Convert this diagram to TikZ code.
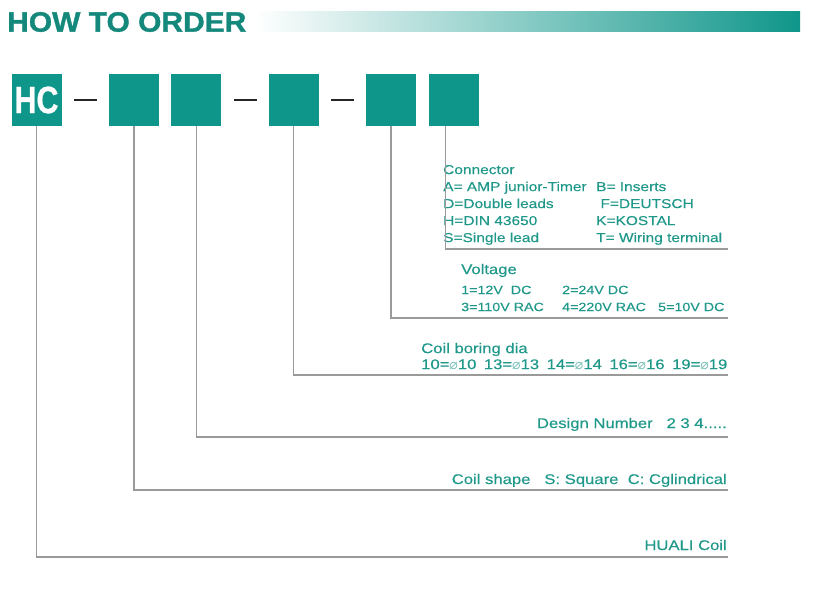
\documentclass[tikz,border=0pt]{standalone}
\usepackage{fontspec}
\setmainfont{Liberation Sans}
\newfontfamily\widesans[FakeStretch=1.19, FakeBold=0.3]{Liberation Sans}
\newfontfamily\narrowsans[FakeStretch=0.8, BoldFeatures={FakeBold=0.8}]{Liberation Sans}
\newfontfamily\titlesans[FakeStretch=1.07, BoldFeatures={FakeBold=1.2}]{Liberation Sans}
\newfontfamily\dejavu{DejaVu Sans}
\usepackage{tikz}
\usetikzlibrary{positioning,calc}
\definecolor{hbox}{HTML}{0F968A}
\definecolor{htitle}{HTML}{15887C}
\definecolor{htext}{HTML}{1F988A}
\definecolor{hgray}{HTML}{9A9A9A}
\newcommand{\dia}{{\dejavu\color{htext!60}⌀}}
\newcommand{\gap}{\hspace{7.5pt}}
\tikzset{
  codebox/.style={fill=hbox, minimum width=50pt, minimum height=52pt, inner sep=0pt},
  lead/.style={draw=hgray, line width=1.3pt},
  sepline/.style={draw=black!85, line width=2pt},
  desc/.style={text=htext, inner sep=0pt, align=left, font=\widesans\fontsize{#1}{17}\selectfont},
  desc/.default=13
}

\begin{document}
\begin{tikzpicture}[x=1pt, y=-1pt, node distance=12pt]
  \useasboundingbox (0,0) rectangle (837,600);
  % title bar
  \shade[left color=white, right color=hbox] (255,11) rectangle (800,31);
  \node[anchor=west, inner sep=0pt, text=htitle, font=\titlesans\bfseries\fontsize{28}{28}\selectfont] (title) at (7,22) {HOW TO ORDER};

  % code boxes
  \node[codebox, text=white, font=\narrowsans\bfseries\fontsize{38}{38}\selectfont] (hc) at (36.5,100) {HC};
  \node[codebox, right=47pt of hc] (b2) {};
  \node[codebox, right=of b2] (b3) {};
  \node[codebox, right=47pt of b3] (b4) {};
  \node[codebox, right=47pt of b4] (b5) {};
  \node[codebox, right=of b5] (b6) {};
  \draw[sepline] ([xshift=12pt]hc.east) -- ([xshift=-12pt]b2.west);
  \draw[sepline] ([xshift=12pt]b3.east) -- ([xshift=-12pt]b4.west);
  \draw[sepline] ([xshift=12pt]b4.east) -- ([xshift=-12pt]b5.west);

  % ends of the leads
  \coordinate (e6) at (728,249);
  \coordinate (e5) at (728,318);
  \coordinate (e4) at (728,375);
  \coordinate (e3) at (728,437);
  \coordinate (e2) at (728,490);
  \coordinate (e1) at (728,557);

  % descriptions
  \node[desc, anchor=north west] (conn) at (443,162) {%
    \begin{tabular}{@{}p{153pt}@{}l@{}}
      \multicolumn{2}{@{}l}{Connector}\\
      A= AMP junior-Timer & B= Inserts\\
      D=Double leads & \ F=DEUTSCH\\
      H=DIN 43650 & K=KOSTAL\\
      S=Single lead & T= Wiring terminal
    \end{tabular}};
  \node[desc=12, anchor=north west] (volt) at (461,262) {%
    \begin{tabular}{@{}p{101pt}@{}p{96pt}@{}l@{}}
      \multicolumn{3}{@{}l}{\fontsize{14}{17}\selectfont Voltage}\\[3pt]
      1=12V\ \ DC & 2=24V DC\\
      3=110V RAC & 4=220V RAC & 5=10V DC
    \end{tabular}};
  \node[desc=14, anchor=north west] (bore) at (421,341) {%
    \begin{tabular}{@{}l@{}}
      Coil boring dia\\[-1pt]
      10=\dia10\gap13=\dia13\gap14=\dia14\gap16=\dia16\gap19=\dia19
    \end{tabular}};
  \node[desc=14, anchor=base east] (design) at (727,428) {Design Number\ \ \ 2 3 4.....};
  \node[desc=14, anchor=base east] (shape) at (727,484) {Coil shape\ \ \ S: Square\ \ C: Cglindrical};
  \node[desc=14, anchor=base east] (brand) at (727,550) {HUALI Coil};

  % leads
  \draw[lead] ([xshift=-8pt]b6.south) |- (e6);
  \draw[lead] (b5.south) |- (e5);
  \draw[lead] (b4.south) |- (e4);
  \draw[lead] (b3.south) |- (e3);
  \draw[lead] (b2.south) |- (e2);
  \draw[lead] (hc.south) |- (e1);
\end{tikzpicture}
\end{document}
